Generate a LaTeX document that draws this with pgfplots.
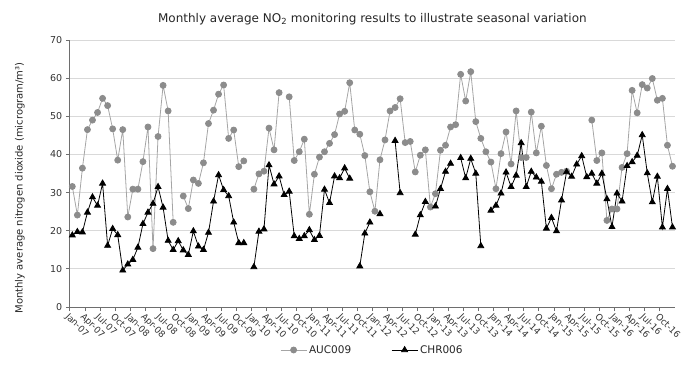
\documentclass[border=0pt]{standalone}
\usepackage{fontspec}
\setmainfont{DejaVu Sans}
\usepackage{pgfplots}
\pgfplotsset{compat=1.18}
\usepackage{pgfplotstable}
\definecolor{aucgray}{RGB}{140,140,140}
\definecolor{auclinegray}{RGB}{165,165,165}
\definecolor{gridgray}{RGB}{217,217,217}
\definecolor{axisgray}{RGB}{110,110,110}

\pgfplotstableread{
i auc chr
0 31.6 18.8
1 24.1 19.7
2 36.4 19.6
3 46.5 24.8
4 49.0 28.8
5 51.0 26.6
6 54.7 32.4
7 52.8 16.1
8 46.7 20.5
9 38.5 18.9
10 46.5 9.6
11 23.6 11.2
12 30.9 12.4
13 30.9 15.6
14 38.1 21.8
15 47.2 24.8
16 15.3 27.1
17 44.7 31.5
18 58.1 26.1
19 51.4 17.4
20 22.2 15.0
21 nan 17.3
22 29.1 14.9
23 25.8 13.7
24 33.3 19.9
25 32.4 15.9
26 37.8 15.0
27 48.1 19.5
28 51.6 27.7
29 55.8 34.6
30 58.2 30.7
31 44.2 29.1
32 46.4 22.2
33 36.8 16.8
34 38.3 16.8
35 nan nan
36 30.9 10.5
37 34.9 19.8
38 35.6 20.4
39 46.9 37.2
40 41.2 32.2
41 56.2 34.3
42 nan 29.4
43 55.1 30.3
44 38.4 18.6
45 40.7 17.9
46 44.0 18.6
47 24.3 20.2
48 34.8 17.6
49 39.3 18.7
50 40.7 30.8
51 42.9 27.3
52 45.2 34.3
53 50.6 33.8
54 51.3 36.4
55 58.8 33.7
56 46.4 nan
57 45.3 10.7
58 39.7 19.3
59 30.2 22.2
60 25.1 nan
61 38.6 24.4
62 43.8 nan
63 51.4 nan
64 52.3 43.6
65 54.6 29.9
66 43.1 nan
67 43.4 nan
68 35.4 19.0
69 39.8 24.1
70 41.2 27.6
71 26.2 nan
72 29.7 26.4
73 41.1 31.0
74 42.4 35.5
75 47.2 37.6
76 47.8 nan
77 61.0 39.1
78 54.0 33.8
79 61.7 38.9
80 48.6 35.0
81 44.2 16.0
82 40.7 nan
83 38.0 25.3
84 31.0 26.6
85 40.2 29.8
86 45.9 35.3
87 37.5 31.5
88 51.4 34.5
89 39.2 43.0
90 39.2 31.5
91 51.1 35.5
92 40.4 34.0
93 47.4 32.9
94 37.1 20.6
95 31.0 23.4
96 34.8 19.9
97 35.3 28.0
98 35.6 35.4
99 nan 34.2
100 nan 37.4
101 nan 39.6
102 nan 34.1
103 49.0 35.0
104 38.4 32.4
105 40.4 35.0
106 22.7 28.3
107 25.7 21.0
108 25.7 29.8
109 36.6 27.7
110 40.2 37.0
111 56.8 38.0
112 50.9 39.7
113 58.3 45.1
114 57.4 35.1
115 59.9 27.5
116 54.2 34.2
117 54.7 20.9
118 42.4 31.0
119 36.9 20.9
}\datatable

\begin{document}
\begin{tikzpicture}
\begin{axis}[
  at={(69.8bp,71bp)}, anchor=south west,
  scale only axis, width=605.2bp, height=267bp,
  xmin=-0.5, xmax=119.5, ymin=0, ymax=70,
  ytick={0,10,...,70},
  xtick={-0.5,2.5,...,116.5},
  xticklabels={Jan-07,Apr-07,Jul-07,Oct-07,Jan-08,Apr-08,Jul-08,Oct-08,Jan-09,Apr-09,Jul-09,Oct-09,Jan-10,Apr-10,Jul-10,Oct-10,Jan-11,Apr-11,Jul-11,Oct-11,Jan-12,Apr-12,Jul-12,Oct-12,Jan-13,Apr-13,Jul-13,Oct-13,Jan-14,Apr-14,Jul-14,Oct-14,Jan-15,Apr-15,Jul-15,Oct-15,Jan-16,Apr-16,Jul-16,Oct-16},
  x tick label style={rotate=-45, anchor=north west, font=\fontsize{9bp}{10.5bp}\selectfont, inner sep=0.8bp, text=black!80},
  y tick label style={font=\fontsize{9.5bp}{11bp}\selectfont, text=black!80},
  axis lines=left, axis line style={-, draw=axisgray, line width=0.8pt},
  ymajorgrids, grid style={gridgray, line width=0.9pt},
  tick align=outside, major tick length=4bp, tick style={axisgray, line width=0.8pt},
  title={Monthly average NO\textsubscript{2} monitoring results to illustrate seasonal variation},
  title style={font=\fontsize{12bp}{14bp}\selectfont, at={(0.5,1)}, anchor=south, yshift=6bp, text=black!85},
  ylabel={Monthly average nitrogen dioxide (microgram/m³)},
  ylabel style={font=\fontsize{10bp}{12bp}\selectfont, at={(axis description cs:-0.0823,0.446)}, anchor=center, text=black!85},
  legend columns=2,
  legend style={draw=none, at={(axis description cs:0.5,-0.161)}, anchor=center, font=\fontsize{10.5bp}{12bp}\selectfont, text=black!85, /tikz/every even column/.append style={column sep=38bp}},
  legend image code/.code={\draw[mark repeat=2,mark phase=2,#1] plot coordinates {(0bp,0bp) (13bp,0bp) (26bp,0bp)};},
  unbounded coords=jump,
  /pgf/number format/assume math mode=true,
  clip=false,
]
\addplot[auclinegray, line width=0.8pt, mark=*, mark size=3bp, mark options={fill=aucgray, draw=aucgray}] table[x=i,y=auc]{\datatable};
\addlegendentry{AUC009}
\addplot[black, line width=0.8pt, mark=triangle*, mark size=3.4bp, mark options={fill=black}] table[x=i,y=chr]{\datatable};
\addlegendentry{CHR006}
\end{axis}
\pgfresetboundingbox
\path[use as bounding box] (0,0) rectangle (681bp,378bp);
\end{tikzpicture}
\end{document}
